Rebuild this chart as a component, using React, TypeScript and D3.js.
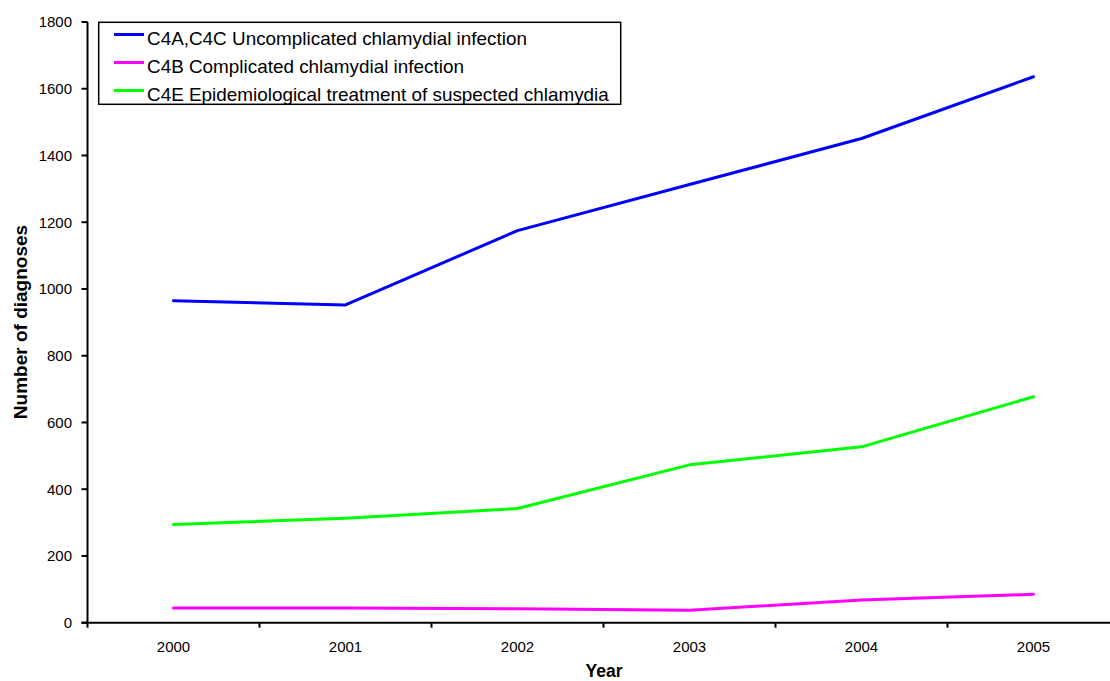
import React from "react";
import * as d3 from "d3";

const years = ["2000", "2001", "2002", "2003", "2004", "2005"];
const uncomplicated = [965, 952, 1175, 1313, 1451, 1636];
const complicated = [44, 44, 42, 37, 68, 85];
const epidemiological = [294, 313, 342, 473, 527, 677];
const yTicks = [0, 200, 400, 600, 800, 1000, 1200, 1400, 1600, 1800];

const seriesNames = [
  "C4A,C4C Uncomplicated chlamydial infection",
  "C4B Complicated chlamydial infection",
  "C4E Epidemiological treatment of suspected chlamydia",
];
const seriesColors = ["#0000ff", "#ff00ff", "#00ff00"];
const seriesValues = [uncomplicated, complicated, epidemiological];

const W = 1110;
const H = 681;
const FONT = "Arial, 'Liberation Sans', Helvetica, sans-serif";

export default function App() {
  const left = 87.5;
  const step = 172;
  const x = d3
    .scaleBand<string>()
    .domain(years)
    .range([left, left + step * years.length])
    .paddingInner(0)
    .paddingOuter(0);
  const y = d3.scaleLinear().domain([0, 1800]).range([622.7, 22]);

  const line = d3
    .line<number>()
    .x((_, i) => (x(years[i]) as number) + x.bandwidth() / 2)
    .y((d) => y(d));

  const x0 = x.range()[0];
  const x1 = x.range()[1];
  const boundaries = years.map((yr) => x(yr) as number).concat([x1]);

  return (
    <svg
      width={W}
      height={H}
      style={{ position: "absolute", left: 0, top: 0, background: "#fff" }}
      fontFamily={FONT}
    >
      <rect x={0} y={0} width={W} height={H} fill="#fff" />

      {/* y axis */}
      <line x1={x0} x2={x0} y1={y(1800)} y2={y(0)} stroke="#000" strokeWidth={2} />
      {yTicks.map((t) => (
        <g key={t}>
          <line x1={x0 - 6} x2={x0} y1={y(t)} y2={y(t)} stroke="#000" strokeWidth={2} />
          <text x={72} y={y(t)} dy="0.36em" textAnchor="end" fontSize={15} fill="#000">
            {t}
          </text>
        </g>
      ))}

      {/* x axis */}
      <line x1={x0 - 6} x2={x1} y1={y(0)} y2={y(0)} stroke="#000" strokeWidth={2} />
      {boundaries.map((b, i) => (
        <line key={i} x1={b} x2={b} y1={y(0)} y2={y(0) + 5} stroke="#000" strokeWidth={2} />
      ))}
      {years.map((yr) => (
        <text
          key={yr}
          x={(x(yr) as number) + x.bandwidth() / 2}
          y={651.5}
          textAnchor="middle"
          fontSize={15}
          fill="#000"
        >
          {yr}
        </text>
      ))}

      {/* axis titles */}
      <text x={604} y={677} textAnchor="middle" fontSize={17.5} fontWeight="bold" fill="#000">
        Year
      </text>
      <text
        transform={`translate(27, 322) rotate(-90)`}
        textAnchor="middle"
        fontSize={19}
        fontWeight="bold"
        fill="#000"
      >
        Number of diagnoses
      </text>

      {/* series */}
      {seriesValues.map((vals, i) => (
        <path
          key={i}
          d={line(vals) as string}
          fill="none"
          stroke={seriesColors[i]}
          strokeWidth={3}
          strokeLinejoin="round"
          strokeLinecap="round"
        />
      ))}

      {/* legend */}
      <rect x={98.7} y={22.3} width={522} height={82} fill="#fff" stroke="#000" strokeWidth={1.5} />
      {seriesNames.map((name, i) => (
        <g key={name}>
          <line
            x1={114}
            x2={144}
            y1={34.5 + i * 28}
            y2={34.5 + i * 28}
            stroke={seriesColors[i]}
            strokeWidth={3}
          />
          <text
            transform={`translate(147, ${44.5 + i * 28}) scale(1.05, 1)`}
            fontSize={18}
            fill="#000"
          >
            {name}
          </text>
        </g>
      ))}
    </svg>
  );
}
